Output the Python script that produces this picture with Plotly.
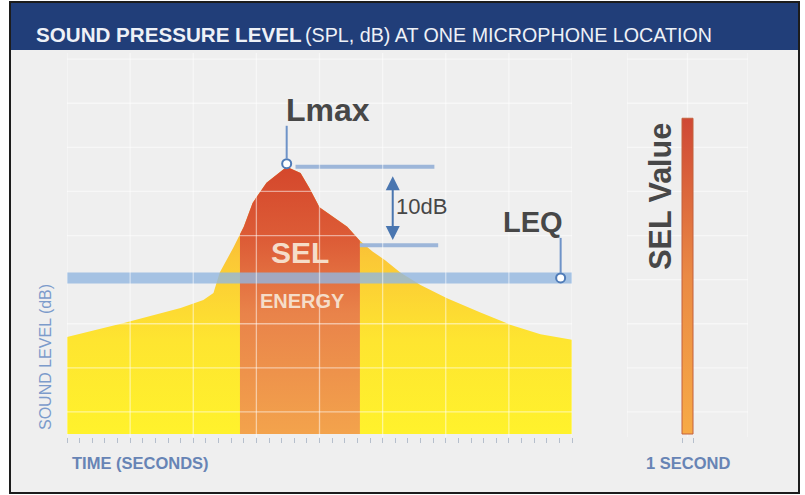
import numpy as np
import plotly.graph_objects as go

# ---------------- data ----------------
time_s = [0, 4.5, 9, 10.8, 11.6, 12.1, 13.2, 14, 14.7, 15.8, 16.9, 17.4, 18.5, 19.2,
          20, 21.1, 22.2, 23.2, 24.2, 25.2, 26.4, 28, 30.1, 32.7, 35.1, 37.5, 40]
spl_db = [48.5, 50.1, 51.8, 52.7, 53.5, 55.8, 58.7, 61.0, 63.7, 66.0, 67.2, 67.8, 67.1, 65.4,
          63.2, 62.1, 61.0, 59.4, 58.2, 57.2, 55.8, 54.4, 52.9, 51.3, 49.9, 48.8, 48.2]
sel_window_s = [13.7, 23.2]      # SEL energy window (10 dB down points)
lmax_db = 67.8
lmax_time_s = 17.4
ten_db_down_db = 58.9
leq_db = 55.2
leq_marker_time_s = 39.1
sel_value_db = 73.3
sel_bar_s = [0, 1]
floor_db = 37.5

# ---------------- styling ----------------
SANS = "Liberation Sans, Arial, sans-serif"
DARK = "#474747"
BLUE_TXT = "#6784b5"
W, H = 805, 495


def px_x(p):
    return p / W


def px_y(p):
    return (H - p) / H


fig = go.Figure()

# yellow sound-level area
fig.add_trace(go.Scatter(
    x=[time_s[0]] + time_s + [time_s[-1]],
    y=[floor_db] + spl_db + [floor_db],
    mode="lines", fill="toself", line=dict(width=0),
    fillgradient=dict(type="vertical", start=floor_db, stop=64,
                      colorscale=[[0, "#fff22c"], [0.4, "#fee530"], [0.75, "#fbc836"], [1, "#f6ad32"]]),
    hoverinfo="skip", showlegend=False, xaxis="x", yaxis="y"))

# SEL window area
s0, s1 = sel_window_s
seg_t = [s0] + [t for t in time_s if s0 < t < s1] + [s1]
seg_y = list(np.interp(seg_t, time_s, spl_db))
fig.add_trace(go.Scatter(
    x=[s0] + seg_t + [s1], y=[floor_db] + seg_y + [floor_db],
    mode="lines", fill="toself", line=dict(width=0),
    fillgradient=dict(type="vertical", start=floor_db, stop=lmax_db,
                      colorscale=[[0, "#f3a34c"], [0.45, "#e9834a"], [0.72, "#dd5d37"], [1, "#d4472c"]]),
    hoverinfo="skip", showlegend=False, xaxis="x", yaxis="y"))

# LEQ band
fig.add_trace(go.Scatter(
    x=[time_s[0], time_s[-1]], y=[leq_db, leq_db], mode="lines",
    line=dict(width=11, color="rgba(146,182,224,0.8)"),
    hoverinfo="skip", showlegend=False, xaxis="x", yaxis="y"))

# Lmax and 10 dB down reference lines
fig.add_trace(go.Scatter(
    x=[18.1, 29.1], y=[lmax_db, lmax_db], mode="lines",
    line=dict(width=4, color="#9db6d9"), hoverinfo="skip", showlegend=False))
fig.add_trace(go.Scatter(
    x=[s1, 29.4], y=[ten_db_down_db, ten_db_down_db], mode="lines",
    line=dict(width=4, color="#9db6d9"), hoverinfo="skip", showlegend=False))

# markers
fig.add_trace(go.Scatter(
    x=[lmax_time_s, leq_marker_time_s], y=[lmax_db + 0.35, leq_db], mode="markers",
    marker=dict(size=9, color="white", line=dict(width=2, color="#4f7bb7")),
    hoverinfo="skip", showlegend=False))

# SEL value bar (right panel)
b0, b1 = sel_bar_s
fig.add_trace(go.Scatter(
    x=[b0, b1, b1, b0, b0], y=[floor_db, floor_db, sel_value_db, sel_value_db, floor_db],
    mode="lines", fill="toself", line=dict(width=1, color="#c4613d"),
    fillgradient=dict(type="vertical", start=floor_db, stop=sel_value_db,
                      colorscale=[[0, "#f7aa46"], [0.5, "#ea8a45"], [1, "#cf4835"]]),
    hoverinfo="skip", showlegend=False, xaxis="x2", yaxis="y2"))

shapes = []
# frame + header
shapes.append(dict(type="rect", xref="paper", yref="paper", x0=px_x(10), x1=px_x(799),
                   y0=px_y(493), y1=px_y(2), fillcolor="#efefef",
                   line=dict(color="#1c1c1c", width=2), layer="below"))
shapes.append(dict(type="rect", xref="paper", yref="paper", x0=px_x(11), x1=px_x(798),
                   y0=px_y(50), y1=px_y(3), fillcolor="#213e79",
                   line=dict(width=0), layer="below"))

grid = dict(color="rgba(255,255,255,0.5)", width=1.3)
for gx in range(0, 41, 5):
    shapes.append(dict(type="line", xref="x", yref="y domain", x0=gx, x1=gx, y0=0, y1=1,
                       line=grid, layer="above"))
for gy in range(40, 81, 5):
    if abs(gy - leq_db) > 1:   # the LEQ band hides this grid line
        shapes.append(dict(type="line", xref="x domain", yref="y", x0=0, x1=1, y0=gy, y1=gy,
                           line=grid, layer="above"))
    shapes.append(dict(type="line", xref="x2 domain", yref="y2", x0=0, x1=1, y0=gy, y1=gy,
                       line=grid, layer="below"))
for gx in (-5, 0.5, 6):
    shapes.append(dict(type="line", xref="x2", yref="y2 domain", x0=gx, x1=gx, y0=0, y1=1,
                       line=grid, layer="below"))

# connectors
shapes.append(dict(type="line", xref="x", yref="y", x0=lmax_time_s, x1=lmax_time_s,
                   ysizemode="pixel", yanchor=lmax_db, y0=8, y1=41,
                   line=dict(color="#6e93c8", width=2)))
shapes.append(dict(type="line", xref="x", yref="y", x0=leq_marker_time_s, x1=leq_marker_time_s,
                   ysizemode="pixel", yanchor=leq_db, y0=5, y1=40,
                   line=dict(color="#6e93c8", width=2)))

annotations = [
    dict(text="<b>SOUND PRESSURE LEVEL</b>", xref="paper", yref="paper", x=px_x(34), y=px_y(34.5),
         xanchor="left", yanchor="middle", showarrow=False,
         font=dict(family=SANS, size=20.6, color="#eef1f7")),
    dict(text="(SPL, dB) AT ONE MICROPHONE LOCATION", xref="paper", yref="paper",
         x=px_x(303), y=px_y(34.5), xanchor="left", yanchor="middle", showarrow=False,
         font=dict(family=SANS, size=19.7, color="#eef1f7")),
    dict(text="<b>Lmax</b>", xref="x", yref="y", x=lmax_time_s, y=lmax_db, xanchor="left",
         yanchor="middle", yshift=57, xshift=-3, showarrow=False,
         font=dict(family=SANS, size=32, color=DARK)),
    dict(text="<b>LEQ</b>", xref="x", yref="y", x=leq_marker_time_s, y=leq_db, xanchor="right",
         yanchor="middle", yshift=56, xshift=4, showarrow=False,
         font=dict(family=SANS, size=29, color=DARK)),
    dict(text="10dB", xref="x", yref="y", x=25.8, y=(lmax_db + ten_db_down_db) / 2,
         xanchor="left", yanchor="middle", xshift=1, showarrow=False,
         font=dict(family=SANS, size=22, color=DARK)),
    dict(text="", xref="x", yref="y", x=25.8, y=ten_db_down_db + 0.6, ax=25.8, ay=lmax_db - 0.9,
         axref="x", ayref="y", showarrow=True, arrowhead=2, arrowside="end+start",
         arrowsize=1.4, arrowwidth=2, arrowcolor="#4a76b0"),
    dict(text="<b>SEL</b>", xref="x", yref="y", x=sum(sel_window_s) / 2, y=ten_db_down_db,
         yshift=-7, xanchor="center", yanchor="middle", showarrow=False,
         font=dict(family=SANS, size=30, color="#f5ddc9")),
    dict(text="<b>ENERGY</b>", xref="x", yref="y", x=sum(sel_window_s) / 2 + 0.2, y=leq_db,
         yshift=-23, xanchor="center", yanchor="middle", showarrow=False,
         font=dict(family=SANS, size=20, color="#f5ddc9")),
    dict(text="<b>SEL Value</b>", xref="x2", yref="y2", x=-2.0, y=64.4, textangle=-90,
         xanchor="center", yanchor="middle", showarrow=False,
         font=dict(family=SANS, size=30.5, color=DARK)),
    dict(text="<b>TIME (SECONDS)</b>", xref="paper", yref="paper", x=px_x(70), y=px_y(463),
         xanchor="left", yanchor="middle", showarrow=False,
         font=dict(family=SANS, size=16.5, color=BLUE_TXT)),
    dict(text="<b>1 SECOND</b>", xref="x2", yref="paper", x=0.5, y=px_y(463),
         xanchor="center", yanchor="middle", showarrow=False,
         font=dict(family=SANS, size=16.5, color=BLUE_TXT)),
    dict(text="SOUND LEVEL (dB)", xref="paper", yref="paper", x=px_x(45), y=px_y(357),
         textangle=-90, xanchor="center", yanchor="middle", showarrow=False,
         font=dict(family=SANS, size=16, color="#7c9bcb")),
]

axis_common = dict(showgrid=False, zeroline=False, showline=False, fixedrange=True)
fig.update_layout(
    width=W, height=H, margin=dict(l=0, r=0, t=0, b=0),
    paper_bgcolor="white", plot_bgcolor="rgba(0,0,0,0)",
    showlegend=False,
    xaxis=dict(domain=[px_x(67), px_x(572)], range=[0, 40], ticks="outside", tick0=0, dtick=1,
               ticklen=5, tickwidth=1, tickcolor="#b6bfcc", showticklabels=False, **axis_common),
    yaxis=dict(domain=[px_y(437), px_y(53)], range=[37.16, 80.7], showticklabels=False,
               **axis_common),
    xaxis2=dict(domain=[px_x(627), px_x(748)], range=[-5, 6], anchor="y2", ticks="outside",
                tickvals=sel_bar_s, ticklen=5, tickwidth=1, tickcolor="#b6bfcc",
                showticklabels=False, **axis_common),
    yaxis2=dict(domain=[px_y(437), px_y(53)], range=[37.16, 80.7], anchor="x2",
                showticklabels=False, **axis_common),
    shapes=shapes, annotations=annotations,
)

fig.write_html("out.html", config={"displayModeBar": False},
               post_script="document.body.style.margin='0';document.body.style.overflow='hidden';")
